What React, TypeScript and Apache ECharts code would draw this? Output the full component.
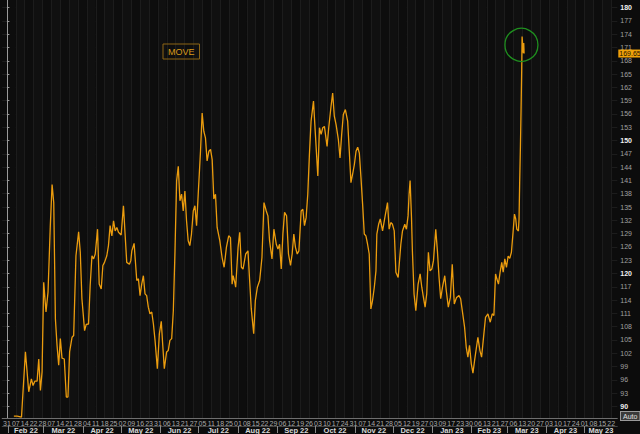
import { useEffect, useRef } from "react";
import * as echarts from "echarts";

const seriesName = "MOVE";

// x: days after 31 Jan 2022 (calendar days)
const xDays = [
  5.5, 8.1, 11.5, 14.6, 17.2, 19.3, 20.6, 22.0, 23.8, 25.1, 26.4, 27.7, 29.0, 30.8, 32.4, 34.2, 35.6, 36.9,
  38.2, 39.5, 40.8, 42.1, 43.4, 45.2, 46.8, 48.1, 49.4, 51.3, 52.6, 54.4, 56.5, 57.8, 59.1, 61.2, 62.5, 64.3,
  65.6, 67.0, 68.3, 69.6, 71.4, 72.7, 74.3, 75.6, 76.9, 78.7, 80.0, 81.3, 82.7, 84.0, 85.3, 86.6, 87.9, 90.0,
  91.8, 94.4, 96.5, 97.6, 98.4, 100.2, 102.3, 103.6, 104.9, 106.2, 107.5, 108.8, 110.1, 111.4, 112.7, 114.1,
  115.4, 116.7, 118.5, 120.1, 121.6, 122.7, 124.0, 125.8, 127.1, 128.4, 129.8, 131.1, 132.4, 133.7, 135.0,
  136.3, 137.6, 138.9, 140.2, 141.5, 142.8, 144.1, 145.4, 146.8, 148.1, 149.4, 150.7, 152.5, 153.8, 155.1,
  156.4, 157.7, 159.1, 160.4, 161.7, 163.0, 164.3, 165.6, 167.7, 169.5, 171.1, 172.9, 174.7, 176.1, 177.4,
  178.2, 179.5, 180.2, 182.1, 183.4, 184.7, 186.0, 188.1, 189.9, 191.2, 192.5, 194.4, 195.7, 197.3, 199.1,
  200.9, 202.5, 204.3, 205.6, 206.9, 208.8, 210.3, 212.2, 213.5, 214.8, 216.1, 217.4, 218.7, 220.3, 221.8,
  223.4, 224.7, 226.0, 227.3, 228.7, 230.0, 231.8, 233.1, 234.4, 235.7, 237.0, 238.3, 239.6, 241.5, 243.0,
  244.9, 246.2, 247.5, 248.8, 250.1, 252.2, 253.5, 255.3, 256.6, 257.9, 259.3, 261.1, 262.4, 263.7, 265.0,
  266.6, 268.4, 269.7, 271.0, 272.3, 273.7, 275.0, 276.3, 277.6, 278.9, 280.2, 281.5, 282.8, 284.1, 285.4,
  286.7, 288.0, 289.4, 290.7, 291.4, 292.8, 294.1, 295.9, 297.7, 299.8, 301.1, 302.4, 303.7, 305.1, 306.4,
  308.2, 310.3, 311.6, 313.4, 314.7, 316.0, 316.8, 317.6, 318.7, 319.4, 320.7, 322.1, 323.9, 325.5, 326.8,
  328.1, 329.4, 330.7, 332.0, 333.3, 334.7, 336.0, 337.8, 339.1, 340.4, 341.7, 343.1, 344.9, 346.1, 347.7,
  349.3, 350.8, 352.4, 354.2, 356.1, 357.4, 358.7, 360.5, 361.8, 363.1, 364.4, 365.8, 367.1, 368.4, 371.0,
  372.6, 373.9, 375.2, 377.0, 378.9, 380.7, 382.3, 383.6, 384.9, 385.9, 387.2, 388.5, 389.8, 390.9, 392.2,
  393.5, 394.8, 396.1, 397.4, 398.7, 399.8, 400.8, 401.6, 402.9, 403.4, 403.9, 404.5, 405.0, 405.5, 405.8,
  406.3, 406.8, 407.1, 407.4,
];

const moveValues = [
  87.8, 87.8, 87.6, 102.3, 93.3, 96.2, 94.7, 95.7, 95.7, 100.7, 93.6, 97.8, 118.0, 111.3, 115.8, 130.8, 140.1, 136.0,
  109.8, 103.8, 99.3, 105.3, 100.9, 100.7, 92.1, 92.1, 102.3, 105.6, 106.0, 124.0, 129.4, 124.8, 114.3, 107.1, 108.5, 108.6,
  117.3, 124.0, 123.3, 124.4, 130.0, 117.6, 116.5, 121.8, 122.5, 124.0, 126.3, 130.8, 128.5, 131.9, 129.6, 130.4, 129.3, 128.7,
  135.3, 122.5, 122.1, 122.9, 125.1, 126.8, 118.4, 118.8, 115.0, 117.6, 119.5, 115.4, 115.0, 112.4, 110.9, 111.3,
  108.6, 104.9, 98.5, 106.4, 109.2, 104.1, 98.5, 102.3, 102.6, 104.9, 105.3, 111.6, 125.1, 140.9, 144.2,
  136.4, 137.9, 134.1, 138.6, 131.9, 127.4, 126.3, 128.9, 134.1, 135.3, 130.8, 137.9, 147.6, 156.2, 152.1,
  150.6, 145.4, 147.6, 148.0, 145.7, 136.8, 137.9, 130.4, 127.4, 123.6, 121.4, 125.9, 128.5, 128.1, 117.6,
  119.5, 118.0, 116.9, 125.9, 129.3, 121.4, 121.0, 124.4, 125.1, 118.4, 112.0, 106.4, 113.9, 116.9, 118.4,
  123.6, 136.0, 134.1, 133.0, 127.4, 123.3, 130.0, 126.6, 125.5, 126.6, 121.0, 128.9, 133.8, 133.0, 124.4,
  121.8, 124.4, 128.9, 125.9, 124.4, 125.1, 134.1, 134.5, 130.8, 132.6, 137.9, 146.9, 154.4, 158.9, 151.4,
  142.0, 152.9, 151.4, 152.9, 153.2, 148.7, 152.9, 157.7, 160.7, 155.5, 153.6, 150.2, 146.1, 151.4, 155.9,
  157.0, 154.4, 147.6, 140.5, 142.4, 144.6, 147.6, 148.5, 147.2, 141.6, 135.6, 128.9, 128.5, 126.6, 124.4,
  112.0, 113.9, 116.9, 120.6, 128.9, 131.1, 132.3, 129.6, 132.6, 136.0, 130.0, 131.5, 131.1, 129.6, 120.3,
  119.1, 126.6, 129.6, 131.1, 130.0, 133.0, 137.9, 141.0, 132.6, 125.1, 115.4, 111.6, 117.6, 119.9, 116.9,
  114.6, 112.4, 115.4, 124.8, 120.6, 121.0, 122.9, 130.0, 125.1, 119.1, 114.3, 116.9, 119.5, 116.1, 112.4,
  114.6, 122.1, 113.1, 114.6, 115.0, 114.3, 111.6, 107.9, 103.4, 101.1, 103.8, 99.6, 97.5, 100.4, 105.6,
  102.6, 101.1, 104.9, 110.1, 110.9, 109.0, 110.9, 110.5, 119.9, 118.8, 117.6, 120.3, 122.5, 120.3, 123.3,
  121.4, 123.9, 123.4, 124.8, 129.3, 133.4, 132.3, 130.0, 129.6, 132.3, 140.5, 148.7, 157.0, 166.0, 173.5,
  171.6, 169.7, 172.0, 169.65,
];

// weekly tick labels (Mondays / first trading day of each week), from 31 Jan 2022 to 22 May 2023
const weekLabels = [
  "31",
  "07", "14", "22", "28",
  "07", "14", "21", "28",
  "04", "11", "18", "25",
  "02", "09", "16", "23", "31",
  "06", "13", "21", "27",
  "05", "11", "18", "25",
  "01", "08", "15", "22", "29",
  "06", "12", "19", "26",
  "03", "10", "17", "24", "31",
  "07", "14", "21", "28",
  "05", "12", "19", "27",
  "03", "09", "17", "23", "30",
  "06", "13", "21", "27",
  "06", "13", "20", "27",
  "03", "10", "17", "24",
  "01", "08", "15", "22",
];

const monthLabels = [
  "Feb 22", "Mar 22", "Apr 22", "May 22", "Jun 22", "Jul 22", "Aug 22", "Sep 22",
  "Oct 22", "Nov 22", "Dec 22", "Jan 23", "Feb 23", "Mar 23", "Apr 23", "May 23",
];

const yTicks = [
  90, 93, 96, 99, 102, 105, 108, 111, 114, 117, 120, 123, 126, 129, 132, 135,
  138, 141, 144, 147, 150, 153, 156, 159, 162, 165, 168, 171, 174, 177, 180,
];
const majorYTicks = [90, 120, 150, 180];

const peakMarker = [405.3, 171.6];

const X_MIN = -3.7;
const X_MAX = 480.8;
const Y_MIN = 87.38;
const Y_MAX = 181.73;

const ORIGIN = Date.UTC(2022, 0, 31);
const DAY = 86400000;

export default function App() {
  const ref = useRef<HTMLDivElement>(null);

  useEffect(() => {
    if (!ref.current) return;
    const chart = echarts.init(ref.current, null, { renderer: "svg" });

    const weekTicks = weekLabels.map((_, i) => i * 7);
    const monthStarts: number[] = [];
    for (let i = 0; i <= monthLabels.length; i++) {
      monthStarts.push((Date.UTC(2022, 1 + i, 1) - ORIGIN) / DAY);
    }
    const monthCenters = monthLabels.map((_, i) => {
      const a = Math.max(monthStarts[i], X_MIN);
      const b = Math.min(monthStarts[i + 1], X_MAX);
      return (a + b) / 2;
    });
    const monthTickValues = monthStarts.filter((v) => v > X_MIN && v < X_MAX);

    const data = xDays.map((d, i) => [d, moveValues[i]]);
    const lastValue = moveValues[moveValues.length - 1];
    const orange = "#eb9c0e";

    const option: any = {
      animation: false,
      backgroundColor: "#0c0c0c",
      textStyle: { fontFamily: "Liberation Sans, Arial, sans-serif" },
      grid: { left: 0, right: 22.7, top: 0, bottom: 14.5, containLabel: false },
      legend: {
        data: [{ name: seriesName, icon: "none" }],
        left: 163,
        top: 44,
        itemWidth: 0,
        itemHeight: 0,
        padding: [3, 5, 3, 0],
        borderColor: "#8c6414",
        borderWidth: 1,
        selectedMode: false,
        textStyle: { color: "#d99a1a", fontSize: 9, fontFamily: "Liberation Sans, Arial, sans-serif" },
      },
      xAxis: [
        {
          type: "value",
          min: X_MIN,
          max: X_MAX,
          position: "bottom",
          axisLine: { show: true, onZero: false, lineStyle: { color: "#6e6e6e", width: 1 } },
          axisTick: { show: false, customValues: weekTicks },
          axisLabel: {
            customValues: weekTicks,
            formatter: (v: number) => weekLabels[Math.round(v / 7)] ?? "",
            color: "#a8a8a8",
            fontSize: 7,
            margin: 2,
          },
          splitLine: { show: true, lineStyle: { color: "#1c1c1c", width: 1 } },
          splitArea: { show: true, areaStyle: { color: ["#0d0d0d", "#101010"] } },
        },
        {
          type: "value",
          min: X_MIN,
          max: X_MAX,
          position: "bottom",
          offset: 8,
          axisLine: { show: true, onZero: false, lineStyle: { color: "#444444", width: 1 } },
          axisTick: { show: true, customValues: monthTickValues, length: 7, lineStyle: { color: "#8a8a8a" } },
          axisLabel: {
            customValues: monthCenters,
            formatter: (v: number) => {
              let best = 0;
              for (let i = 1; i < monthCenters.length; i++) {
                if (Math.abs(monthCenters[i] - v) < Math.abs(monthCenters[best] - v)) best = i;
              }
              return monthLabels[best];
            },
            color: "#d8d8d8",
            fontSize: 7.5,
            fontWeight: "bold",
            margin: 0,
          },
          splitLine: { show: false },
        },
      ],
      yAxis: {
        type: "value",
        position: "right",
        min: Y_MIN,
        max: Y_MAX,
        axisLine: { show: true, lineStyle: { color: "#9a9a9a", width: 1 } },
        axisTick: { show: true, customValues: yTicks, length: 2.5, lineStyle: { color: "#9a9a9a" } },
        axisLabel: {
          customValues: yTicks,
          margin: 3,
          color: "#a0a0a0",
          fontSize: 7,
          formatter: (v: number) => {
            const r = Math.round(v);
            return majorYTicks.includes(r) ? `{b|${r}}` : `${r}`;
          },
          rich: { b: { color: "#f2f2f2", fontWeight: "bold", fontSize: 7 } },
        },
        splitLine: { show: true, lineStyle: { color: "#1c1c1c", width: 1 } },
      },
      series: [
        {
          name: seriesName,
          type: "line",
          xAxisIndex: 0,
          data,
          symbol: "none",
          showSymbol: false,
          lineStyle: { color: orange, width: 1.3 },
          itemStyle: { color: orange },
          emphasis: { disabled: true },
          markLine: {
            silent: true,
            symbol: ["none", "none"],
            data: [{ yAxis: lastValue }],
            lineStyle: { width: 0, color: "rgba(0,0,0,0)" },
            label: {
              show: true,
              position: "end",
              distance: 1,
              formatter: lastValue.toFixed(2),
              backgroundColor: "#f0a30a",
              color: "#1a1000",
              fontSize: 7,
              padding: [1, 1, 0, 1],
            },
          },
          markPoint: {
            silent: true,
            symbol: "circle",
            symbolSize: 33,
            data: [{ coord: peakMarker }],
            itemStyle: { color: "rgba(0,0,0,0)", borderColor: "#1f8f1f", borderWidth: 1.3 },
            label: { show: false },
          },
        },
      ],
      graphic: [
        {
          type: "text",
          left: 620,
          top: 411,
          style: {
            text: "Auto",
            fill: "#e0e0e0",
            fontSize: 7,
            fontFamily: "Liberation Sans, Arial, sans-serif",
            backgroundColor: "#3a3a3a",
            borderColor: "#9a9a9a",
            borderWidth: 1,
            padding: [1, 2, 0, 2],
          },
        },
      ],
    };

    chart.setOption(option);
    return () => chart.dispose();
  }, []);

  return (
    <div
      ref={ref}
      style={{ position: "absolute", left: 0, top: 0, width: 640, height: 434, background: "#0c0c0c" }}
    />
  );
}
